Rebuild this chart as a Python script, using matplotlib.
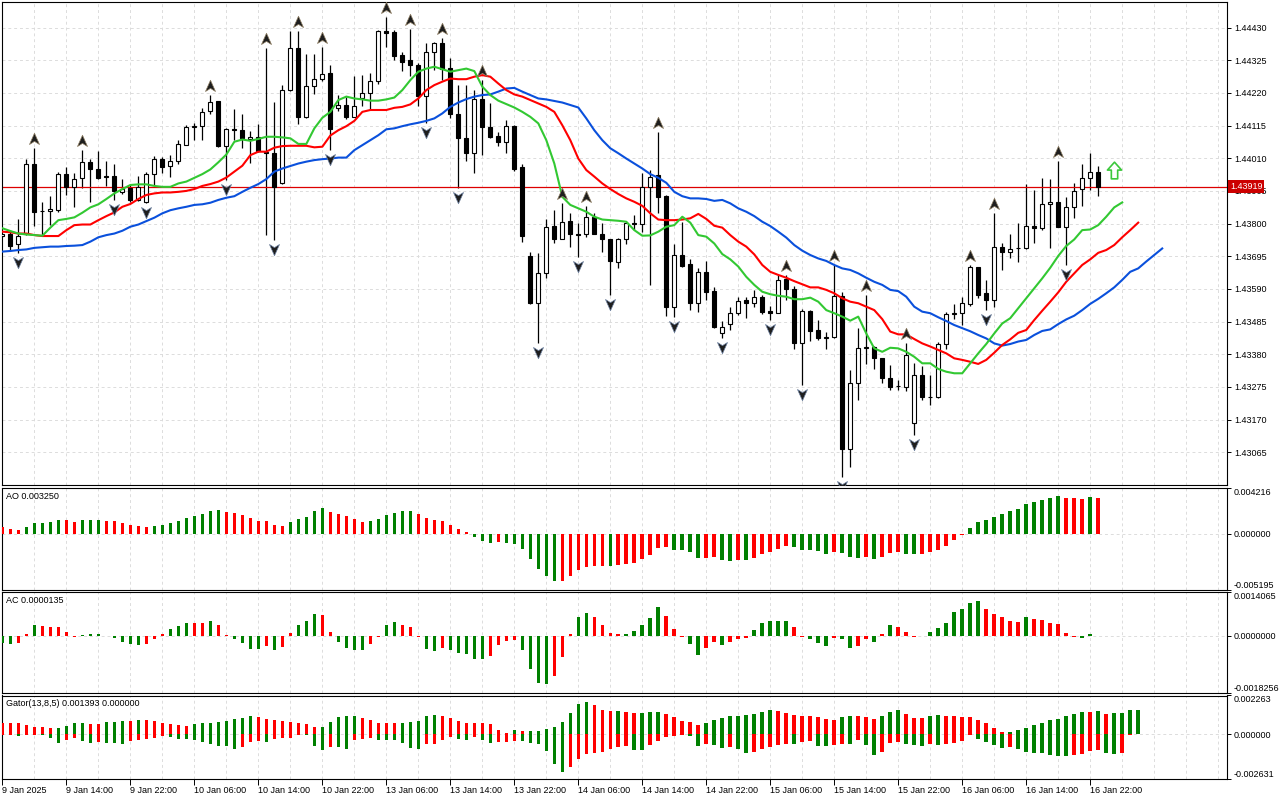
import numpy as np
import matplotlib
matplotlib.use("Agg")
import matplotlib.pyplot as plt
import matplotlib.transforms as mtransforms
from matplotlib.path import Path
from matplotlib.ticker import FormatStrFormatter

# ---------------- data (H1 bars) ----------------
opens = [1.43760, 1.43765, 1.43733, 1.43768, 1.43993, 1.43839, 1.43839, 1.43843, 1.43959, 1.43916,
         1.43945, 1.43997, 1.43974, 1.43953, 1.43953, 1.43902, 1.43913, 1.43876, 1.43870, 1.43958,
         1.44009, 1.43985, 1.44002, 1.44054, 1.44109, 1.44115, 1.44161, 1.44194, 1.44049, 1.44104,
         1.44100, 1.44072, 1.44079, 1.44028, 1.44026, 1.43929, 1.44229, 1.44363, 1.44143, 1.44242,
         1.44263, 1.44285, 1.44170, 1.44181, 1.44143, 1.44204, 1.44221, 1.44258, 1.44418, 1.44414,
         1.44341, 1.44325, 1.44311, 1.44211, 1.44352, 1.44379, 1.44301, 1.44151, 1.44074, 1.44026,
         1.44200, 1.44111, 1.44081, 1.44063, 1.44115, 1.43981, 1.43696, 1.43544, 1.43640, 1.43792,
         1.43752, 1.43808, 1.43765, 1.43765, 1.43822, 1.43768, 1.43750, 1.43675, 1.43752, 1.43799,
         1.43799, 1.43916, 1.43956, 1.43888, 1.43531, 1.43699, 1.43670, 1.43544, 1.43643, 1.43583,
         1.43447, 1.43477, 1.43512, 1.43554, 1.43546, 1.43563, 1.43519, 1.43514, 1.43621, 1.43590,
         1.43415, 1.43519, 1.43458, 1.43431, 1.43437, 1.43567, 1.43075, 1.43289, 1.43399, 1.43405,
         1.43367, 1.43303, 1.43278, 1.43276, 1.43158, 1.43313, 1.43244, 1.43242, 1.43413, 1.43509,
         1.43512, 1.43542, 1.43661, 1.43576, 1.43554, 1.43724, 1.43708, 1.43720, 1.43720, 1.43793,
         1.43787, 1.43863, 1.43868, 1.43790, 1.43854, 1.43910, 1.43948, 1.43967]
highs = [1.43768, 1.43779, 1.43815, 1.44006, 1.44044, 1.43868, 1.43888, 1.43967, 1.43983, 1.43961,
         1.44036, 1.44007, 1.44033, 1.44001, 1.43993, 1.43942, 1.43924, 1.43953, 1.43967, 1.44017,
         1.44015, 1.44020, 1.44068, 1.44116, 1.44122, 1.44170, 1.44213, 1.44195, 1.44106, 1.44168,
         1.44151, 1.44097, 1.44119, 1.44365, 1.44191, 1.44245, 1.44418, 1.44418, 1.44344, 1.44345,
         1.44368, 1.44309, 1.44213, 1.44208, 1.44274, 1.44277, 1.44285, 1.44422, 1.44465, 1.44422,
         1.44352, 1.44425, 1.44315, 1.44381, 1.44384, 1.44395, 1.44331, 1.44245, 1.44245, 1.44229,
         1.44261, 1.44186, 1.44095, 1.44133, 1.44116, 1.43990, 1.43710, 1.43704, 1.43815, 1.43843,
         1.43867, 1.43833, 1.43801, 1.43857, 1.43833, 1.43803, 1.43752, 1.43755, 1.43806, 1.43827,
         1.43963, 1.43972, 1.44095, 1.43892, 1.43734, 1.43804, 1.43686, 1.43656, 1.43681, 1.43597,
         1.43488, 1.43533, 1.43563, 1.43565, 1.43587, 1.43570, 1.43535, 1.43635, 1.43635, 1.43599,
         1.43524, 1.43522, 1.43490, 1.43453, 1.43667, 1.43581, 1.43330, 1.43463, 1.43570, 1.43407,
         1.43369, 1.43346, 1.43297, 1.43415, 1.43352, 1.43343, 1.43313, 1.43421, 1.43517, 1.43542,
         1.43563, 1.43667, 1.43661, 1.43619, 1.43833, 1.43736, 1.43765, 1.43801, 1.43927, 1.43908,
         1.43945, 1.43943, 1.44001, 1.43886, 1.43932, 1.43993, 1.44026, 1.43985]
lows = [1.43756, 1.43713, 1.43704, 1.43763, 1.43792, 1.43763, 1.43795, 1.43836, 1.43892, 1.43852,
        1.43913, 1.43870, 1.43942, 1.43921, 1.43876, 1.43894, 1.43870, 1.43872, 1.43865, 1.43924,
        1.43963, 1.43951, 1.43993, 1.44052, 1.44070, 1.44070, 1.44151, 1.44047, 1.43940, 1.44070,
        1.44044, 1.43996, 1.44031, 1.43763, 1.43747, 1.43927, 1.44227, 1.44119, 1.44138, 1.44215,
        1.44258, 1.44036, 1.44161, 1.44135, 1.44141, 1.44178, 1.44165, 1.44247, 1.44368, 1.44325,
        1.44291, 1.44274, 1.44178, 1.44122, 1.44295, 1.44261, 1.44140, 1.43913, 1.44002, 1.43961,
        1.44020, 1.44074, 1.44050, 1.44026, 1.43970, 1.43742, 1.43542, 1.43415, 1.43624, 1.43736,
        1.43749, 1.43724, 1.43694, 1.43758, 1.43765, 1.43708, 1.43570, 1.43658, 1.43734, 1.43779,
        1.43774, 1.43603, 1.43835, 1.43503, 1.43499, 1.43661, 1.43522, 1.43515, 1.43554, 1.43463,
        1.43433, 1.43458, 1.43506, 1.43498, 1.43533, 1.43509, 1.43490, 1.43512, 1.43554, 1.43396,
        1.43281, 1.43424, 1.43426, 1.43396, 1.43431, 1.42987, 1.43019, 1.43233, 1.43349, 1.43332,
        1.43287, 1.43265, 1.43265, 1.43263, 1.43121, 1.43233, 1.43217, 1.43239, 1.43396, 1.43492,
        1.43474, 1.43536, 1.43562, 1.43522, 1.43533, 1.43651, 1.43690, 1.43678, 1.43717, 1.43736,
        1.43779, 1.43720, 1.43788, 1.43667, 1.43819, 1.43857, 1.43908, 1.43888]
closes = [1.43765, 1.43729, 1.43761, 1.43993, 1.43838, 1.43839, 1.43847, 1.43959, 1.43916, 1.43942,
          1.43997, 1.43974, 1.43947, 1.43951, 1.43906, 1.43910, 1.43876, 1.43916, 1.43959, 1.44009,
          1.43983, 1.44002, 1.44055, 1.44109, 1.44115, 1.44159, 1.44191, 1.44049, 1.44104, 1.44100,
          1.44074, 1.44079, 1.44034, 1.44030, 1.43916, 1.44229, 1.44363, 1.44143, 1.44242, 1.44263,
          1.44282, 1.44103, 1.44181, 1.44143, 1.44179, 1.44221, 1.44258, 1.44418, 1.44411, 1.44339,
          1.44320, 1.44311, 1.44211, 1.44350, 1.44379, 1.44298, 1.44151, 1.44074, 1.44026, 1.44200,
          1.44111, 1.44079, 1.44063, 1.44113, 1.43975, 1.43761, 1.43544, 1.43640, 1.43788, 1.43752,
          1.43806, 1.43765, 1.43764, 1.43822, 1.43768, 1.43749, 1.43680, 1.43752, 1.43801, 1.43801,
          1.43916, 1.43951, 1.43886, 1.43531, 1.43699, 1.43665, 1.43544, 1.43643, 1.43581, 1.43469,
          1.43469, 1.43512, 1.43552, 1.43544, 1.43563, 1.43517, 1.43512, 1.43619, 1.43589, 1.43415,
          1.43519, 1.43456, 1.43431, 1.43437, 1.43567, 1.43075, 1.43289, 1.43399, 1.43405, 1.43367,
          1.43303, 1.43276, 1.43277, 1.43378, 1.43313, 1.43244, 1.43242, 1.43413, 1.43509, 1.43512,
          1.43544, 1.43661, 1.43570, 1.43554, 1.43724, 1.43710, 1.43717, 1.43721, 1.43793, 1.43787,
          1.43863, 1.43868, 1.43790, 1.43852, 1.43906, 1.43948, 1.43967, 1.43919]

# Alligator lines (already shifted forward: lips +3, teeth +5, jaw +8 bars)
lips = [1.43785, 1.43776, 1.43768, 1.43765, 1.43763, 1.43761, 1.43787, 1.43811, 1.43815, 1.43820,
        1.43835, 1.43852, 1.43862, 1.43879, 1.43897, 1.43911, 1.43924, 1.43926, 1.43926, 1.43921,
        1.43918, 1.43918, 1.43929, 1.43935, 1.43947, 1.43959, 1.43974, 1.43997, 1.44022, 1.44063,
        1.44070, 1.44066, 1.44072, 1.44079, 1.44079, 1.44077, 1.44074, 1.44056, 1.44056, 1.44106,
        1.44140, 1.44159, 1.44197, 1.44208, 1.44202, 1.44199, 1.44195, 1.44195, 1.44199, 1.44205,
        1.44229, 1.44261, 1.44288, 1.44298, 1.44304, 1.44296, 1.44288, 1.44293, 1.44298, 1.44290,
        1.44240, 1.44213, 1.44195, 1.44184, 1.44173, 1.44159, 1.44143, 1.44122, 1.44068, 1.43993,
        1.43886, 1.43860, 1.43849, 1.43838, 1.43822, 1.43813, 1.43811, 1.43809, 1.43806, 1.43779,
        1.43761, 1.43762, 1.43774, 1.43790, 1.43795, 1.43822, 1.43803, 1.43763, 1.43758, 1.43736,
        1.43702, 1.43685, 1.43662, 1.43629, 1.43603, 1.43581, 1.43573, 1.43568, 1.43565, 1.43557,
        1.43557, 1.43562, 1.43549, 1.43522, 1.43512, 1.43501, 1.43488, 1.43501, 1.43447, 1.43399,
        1.43388, 1.43401, 1.43399, 1.43388, 1.43372, 1.43351, 1.43351, 1.43333, 1.43324, 1.43319,
        1.43319, 1.43351, 1.43383, 1.43413, 1.43447, 1.43479, 1.43496, 1.43528, 1.43560, 1.43592,
        1.43624, 1.43658, 1.43696, 1.43728, 1.43749, 1.43779, 1.43781, 1.43795, 1.43822, 1.43852,
        1.43868]
teeth = [1.43774, 1.43772, 1.43768, 1.43768, 1.43763, 1.43760, 1.43760, 1.43760, 1.43779, 1.43795,
         1.43797, 1.43797, 1.43811, 1.43824, 1.43836, 1.43854, 1.43863, 1.43879, 1.43892, 1.43897,
         1.43900, 1.43900, 1.43902, 1.43905, 1.43911, 1.43921, 1.43927, 1.43935, 1.43948, 1.43967,
         1.43986, 1.44020, 1.44031, 1.44031, 1.44044, 1.44049, 1.44050, 1.44050, 1.44050, 1.44045,
         1.44047, 1.44083, 1.44100, 1.44113, 1.44130, 1.44159, 1.44165, 1.44165, 1.44165, 1.44172,
         1.44175, 1.44183, 1.44202, 1.44229, 1.44245, 1.44256, 1.44266, 1.44264, 1.44264, 1.44272,
         1.44277, 1.44272, 1.44250, 1.44229, 1.44215, 1.44208, 1.44197, 1.44186, 1.44175, 1.44159,
         1.44116, 1.44068, 1.44009, 1.43972, 1.43951, 1.43929, 1.43911, 1.43895, 1.43881, 1.43870,
         1.43857, 1.43833, 1.43813, 1.43811, 1.43811, 1.43813, 1.43817, 1.43831, 1.43815, 1.43793,
         1.43787, 1.43763, 1.43742, 1.43726, 1.43701, 1.43667, 1.43645, 1.43635, 1.43626, 1.43615,
         1.43605, 1.43595, 1.43595, 1.43587, 1.43576, 1.43560, 1.43549, 1.43544, 1.43533, 1.43522,
         1.43493, 1.43453, 1.43444, 1.43444, 1.43429, 1.43415, 1.43405, 1.43394, 1.43383, 1.43367,
         1.43362, 1.43356, 1.43349, 1.43362, 1.43385, 1.43410, 1.43428, 1.43449, 1.43458, 1.43490,
         1.43520, 1.43549, 1.43579, 1.43613, 1.43640, 1.43667, 1.43685, 1.43706, 1.43715, 1.43731,
         1.43756, 1.43779, 1.43803]
jaw = [1.43710, 1.43712, 1.43715, 1.43717, 1.43722, 1.43724, 1.43726, 1.43726, 1.43728, 1.43729,
       1.43731, 1.43742, 1.43756, 1.43763, 1.43768, 1.43777, 1.43790, 1.43797, 1.43808, 1.43819,
       1.43833, 1.43843, 1.43849, 1.43854, 1.43860, 1.43862, 1.43867, 1.43876, 1.43883, 1.43888,
       1.43902, 1.43915, 1.43927, 1.43943, 1.43967, 1.43977, 1.43985, 1.43993, 1.43999, 1.44004,
       1.44007, 1.44009, 1.44012, 1.44012, 1.44036, 1.44052, 1.44068, 1.44084, 1.44103, 1.44106,
       1.44113, 1.44119, 1.44124, 1.44130, 1.44138, 1.44154, 1.44175, 1.44189, 1.44200, 1.44208,
       1.44213, 1.44215, 1.44224, 1.44234, 1.44236, 1.44224, 1.44213, 1.44202, 1.44199, 1.44194,
       1.44189, 1.44181, 1.44173, 1.44138, 1.44100, 1.44068, 1.44042, 1.44026, 1.44009, 1.43993,
       1.43977, 1.43959, 1.43947, 1.43931, 1.43902, 1.43888, 1.43881, 1.43881, 1.43879, 1.43873,
       1.43876, 1.43865, 1.43849, 1.43838, 1.43824, 1.43806, 1.43792, 1.43774, 1.43755, 1.43731,
       1.43713, 1.43699, 1.43688, 1.43680, 1.43667, 1.43656, 1.43651, 1.43640, 1.43626, 1.43613,
       1.43603, 1.43587, 1.43583, 1.43565, 1.43533, 1.43517, 1.43512, 1.43499, 1.43487, 1.43474,
       1.43464, 1.43454, 1.43442, 1.43431, 1.43415, 1.43408, 1.43413, 1.43421, 1.43426, 1.43442,
       1.43455, 1.43460, 1.43477, 1.43492, 1.43504, 1.43522, 1.43542, 1.43558, 1.43576, 1.43595,
       1.43619, 1.43645, 1.43656, 1.43678, 1.43699, 1.43720]

# bars carrying a fractal arrow
fractal_up = [4, 10, 26, 33, 37, 40, 48, 51, 55, 60, 70, 73, 82, 98, 104, 108, 113, 121, 124, 132]
fractal_down = [2, 14, 18, 28, 34, 41, 53, 57, 67, 72, 76, 84, 90, 96, 100, 105, 114, 123, 133]
signal_bar = 139
signal_price = 1.43972

ao = [0.000585, 0.00040, 0.00031, 0.00059, 0.00095, 0.00096, 0.00105, 0.00123, 0.00122, 0.00105,
      0.00123, 0.00124, 0.00125, 0.00114, 0.00113, 0.00095, 0.00083, 0.00068, 0.00059, 0.00068,
      0.00077, 0.00095, 0.00114, 0.00142, 0.00160, 0.00179, 0.00206, 0.00216, 0.00197, 0.00188,
      0.00169, 0.00142, 0.00114, 0.00113, 0.00077, 0.00068, 0.00105, 0.00132, 0.00151, 0.00206,
      0.00234, 0.00197, 0.00179, 0.00160, 0.00132, 0.00105, 0.00114, 0.00132, 0.00169, 0.00188,
      0.00206, 0.00207, 0.00185, 0.00142, 0.00126, 0.00114, 0.00077, 0.00040, 0.00012, -0.00031,
      -0.00071, -0.00086, -0.00077, -0.00086, -0.00095, -0.00142, -0.00234, -0.00326, -0.00394, -0.00440,
      -0.00439, -0.00394, -0.00333, -0.00308, -0.00296, -0.00295, -0.00297, -0.00293, -0.00280, -0.00271,
      -0.00234, -0.00200, -0.00136, -0.00126, -0.00148, -0.00154, -0.00172, -0.00228, -0.00226, -0.00216,
      -0.00243, -0.00256, -0.00243, -0.00244, -0.00225, -0.00191, -0.00169, -0.00142, -0.00117, -0.00126,
      -0.00148, -0.00154, -0.00163, -0.00188, -0.00169, -0.00179, -0.00216, -0.00225, -0.00219, -0.00234,
      -0.00216, -0.00179, -0.00169, -0.00188, -0.00189, -0.00187, -0.00169, -0.00148, -0.00117, -0.00059,
      -0.00012, 0.00052, 0.00105, 0.00126, 0.00151, 0.00179, 0.00206, 0.00225, 0.00271, 0.00290,
      0.00308, 0.00326, 0.00345, 0.00326, 0.00325, 0.00324, 0.00335, 0.003250]
ac = [-0.000213, -0.000245, -0.000213, 0.000064, 0.000352, 0.000320, 0.000288, 0.000285, 0.000128, -0.000020,
      0.000032, 0.000064, 0.000065, -0.000015, -0.000053, -0.000181, -0.000245, -0.000277, -0.000245, -0.000085,
      0.000064, 0.000224, 0.000320, 0.000416, 0.000415, 0.000413, 0.000480, 0.000352, 0.000032, -0.000085,
      -0.000213, -0.000405, -0.000406, -0.000309, -0.000437, -0.000341, 0.000096, 0.000352, 0.000480, 0.000704,
      0.000672, 0.000128, -0.000181, -0.000373, -0.000437, -0.000440, -0.000245, -0.000020, 0.000352, 0.000448,
      0.000352, 0.000288, -0.000030, -0.000405, -0.000470, -0.000373, -0.000437, -0.000533, -0.000565, -0.000725,
      -0.000726, -0.000629, -0.000277, -0.000149, -0.000117, -0.000437, -0.001045, -0.001493, -0.001525, -0.001269,
      -0.000661, 0.000064, 0.000608, 0.000736, 0.000607, 0.000352, 0.000096, 0.000064, 0.000065, 0.000160,
      0.000352, 0.000576, 0.000928, 0.000640, 0.000224, -0.000020, -0.000245, -0.000597, -0.000373, -0.000181,
      -0.000277, -0.000181, -0.000085, -0.000053, 0.000192, 0.000416, 0.000480, 0.000481, 0.000482, 0.000288,
      -0.000020, -0.000085, -0.000213, -0.000309, -0.000053, -0.000085, -0.000373, -0.000309, -0.000085, -0.000181,
      0.000064, 0.000352, 0.000288, 0.000128, -0.000020, -0.000010, 0.000128, 0.000256, 0.000416, 0.000768,
      0.000864, 0.001056, 0.001120, 0.000864, 0.000704, 0.000608, 0.000480, 0.000448, 0.000608, 0.000544,
      0.000512, 0.000416, 0.000384, 0.000096, -0.000020, -0.000053, 0.000064, 0.0000135]
gator_up = [0.000661, 0.000655, 0.000650, 0.000544, 0.000427, 0.000420, 0.000369, 0.000375, 0.000486, 0.000661,
            0.000668, 0.000602, 0.000598, 0.000719, 0.000725, 0.000777, 0.000770, 0.000835, 0.000830, 0.000777,
            0.000661, 0.000602, 0.000544, 0.000486, 0.000602, 0.000661, 0.000668, 0.000719, 0.000777, 0.000913,
            0.000952, 0.001069, 0.001010, 0.000894, 0.000835, 0.000777, 0.000719, 0.000661, 0.000602, 0.000427,
            0.000435, 0.000719, 0.001010, 0.001069, 0.001075, 0.000952, 0.000835, 0.000661, 0.000655, 0.000650,
            0.000661, 0.000719, 0.000777, 0.001069, 0.001127, 0.001069, 0.000952, 0.000777, 0.000661, 0.000655,
            0.000650, 0.000602, 0.000253, 0.000078, 0.000253, 0.000175, 0.000194, 0.000200, 0.000311, 0.000427,
            0.000719, 0.001244, 0.001768, 0.001885, 0.001710, 0.001418, 0.001360, 0.001366, 0.001302, 0.001244,
            0.001250, 0.001302, 0.001308, 0.001185, 0.001010, 0.000777, 0.000719, 0.000544, 0.000661, 0.000835,
            0.000952, 0.001069, 0.001075, 0.001127, 0.001185, 0.001302, 0.001418, 0.001360, 0.001244, 0.001127,
            0.001069, 0.001063, 0.001010, 0.000894, 0.000835, 0.001010, 0.001069, 0.001063, 0.001010, 0.000894,
            0.001069, 0.001302, 0.001418, 0.001185, 0.000952, 0.000945, 0.001069, 0.001127, 0.001069, 0.001063,
            0.001010, 0.001003, 0.000855, 0.000661, 0.000350, 0.000117, 0.000125, 0.000272, 0.000369, 0.000544,
            0.000641, 0.000816, 0.000874, 0.001049, 0.001166, 0.001282, 0.001276, 0.001360, 0.001166, 0.001224,
            0.001230, 0.001390, 0.001393]
gator_down = [0.000058, 0.000055, 0.000097, 0.000030, 0.000025, 0.000060, 0.000194, 0.000486, 0.000330, 0.000194,
              0.000389, 0.000486, 0.000480, 0.000486, 0.000492, 0.000544, 0.000389, 0.000330, 0.000291, 0.000194,
              0.000097, 0.000136, 0.000253, 0.000291, 0.000330, 0.000447, 0.000544, 0.000680, 0.000686, 0.000835,
              0.000738, 0.000447, 0.000389, 0.000447, 0.000253, 0.000194, 0.000190, 0.000020, 0.000039, 0.000680,
              0.000913, 0.000738, 0.000745, 0.000835, 0.000330, 0.000253, 0.000248, 0.000330, 0.000336, 0.000340,
              0.000486, 0.000777, 0.000835, 0.000583, 0.000544, 0.000330, 0.000136, 0.000253, 0.000330, 0.000136,
              0.000330, 0.000486, 0.000480, 0.000427, 0.000389, 0.000395, 0.000486, 0.000544, 0.000972, 0.001710,
              0.002196, 0.001885, 0.001418, 0.001166, 0.001069, 0.001063, 0.000874, 0.000719, 0.000713, 0.000913,
              0.000920, 0.000622, 0.000389, 0.000136, 0.000130, 0.000020, 0.000097, 0.000680, 0.000544, 0.000622,
              0.000797, 0.000738, 0.000835, 0.001069, 0.001010, 0.000874, 0.000719, 0.000622, 0.000544, 0.000550,
              0.000447, 0.000389, 0.000680, 0.000686, 0.000622, 0.000544, 0.000550, 0.000330, 0.000622, 0.001185,
              0.001010, 0.000486, 0.000427, 0.000544, 0.000622, 0.000661, 0.000564, 0.000622, 0.000564, 0.000486,
              0.000389, 0.000020, 0.000291, 0.000447, 0.000641, 0.000797, 0.000738, 0.000874, 0.001049, 0.001088,
              0.001094, 0.001224, 0.001263, 0.001270, 0.001185, 0.001127, 0.000972, 0.000933, 0.001088, 0.001166,
              0.001088, 0.000040, 0.000000]

time_labels = ["9 Jan 2025", "9 Jan 14:00", "9 Jan 22:00", "10 Jan 06:00", "10 Jan 14:00",
               "10 Jan 22:00", "13 Jan 06:00", "13 Jan 14:00", "13 Jan 22:00", "14 Jan 06:00",
               "14 Jan 14:00", "14 Jan 22:00", "15 Jan 06:00", "15 Jan 14:00", "15 Jan 22:00",
               "16 Jan 06:00", "16 Jan 14:00", "16 Jan 22:00"]
label_step = 8

price_range = (1.42960, 1.44512)
price_ticks = [1.43065 + 0.00105 * k for k in range(14)]
ao_range = (-0.005195, 0.004216)
ac_range = (-0.0018256, 0.0014065)
gator_range = (-0.002631, 0.002263)

# ---------------- style ----------------
plt.rcParams['font.family'] = ['Liberation Sans', 'DejaVu Sans']
plt.rcParams['font.size'] = 6.5
FS = 6.5
GREEN, RED = "#008000", "#ff0000"
GRID = dict(color="#dcdcdc", lw=0.7, ls=(0, (3, 3)), zorder=0)
XLIM = (-0.05, 153.1)

W, H = 1280, 800
fig = plt.figure(figsize=(W / 100, H / 100), dpi=100)


def px_box(left, top, right, bottom):
    return [left / W, 1 - bottom / H, (right - left) / W, (bottom - top) / H]


def trend_colors(vals, first):
    d = np.diff(np.abs(vals))
    return [first] + [GREEN if v > 0 else RED for v in d]


def style_axes(a):
    a.set_xlim(*XLIM)
    for s in a.spines.values():
        s.set_linewidth(0.8)
        s.set_color("black")
    for g in range(0, 154, 4):
        a.axvline(g, **GRID)
    a.yaxis.tick_right()
    a.tick_params(axis="y", direction="out", length=3, width=0.7, pad=2, labelsize=FS)
    a.tick_params(axis="x", bottom=False, labelbottom=False)


# ---------------- main chart ----------------
ax = fig.add_axes(px_box(2, 2, 1227, 485))
style_axes(ax)
ax.set_ylim(*price_range)
ax.set_yticks(price_ticks)
ax.yaxis.set_major_formatter(FormatStrFormatter("%.5f"))
for p in price_ticks:
    ax.axhline(p, **GRID)

o, hi, lo, cl = (np.array(v) for v in (opens, highs, lows, closes))
xs = np.arange(len(o))
bull = cl >= o
ax.vlines(xs, lo, hi, colors="black", lw=0.9, zorder=2)
ax.bar(xs, cl - o, bottom=o, width=0.5, color=np.where(bull, "white", "black"),
       edgecolor="black", linewidth=0.8, zorder=3)

ax.plot(np.arange(len(jaw)), jaw, color="#0a50dc", lw=1.5, zorder=4)
ax.plot(np.arange(len(teeth)), teeth, color="#ff0000", lw=1.5, zorder=4)
ax.plot(np.arange(len(lips)), lips, color="#32c832", lw=1.5, zorder=4)

ax.axhline(cl[-1], color="#dd0000", lw=0.9, zorder=2.5)
ax.text(1.0, cl[-1], f"{cl[-1]:.5f}", color="white", fontsize=FS, ha="left", va="center",
        transform=mtransforms.offset_copy(
            mtransforms.blended_transform_factory(ax.transAxes, ax.transData),
            fig=fig, x=3, y=0, units="dots"),
        bbox=dict(boxstyle="square,pad=0.2", fc="#cc0000", ec="none"),
        clip_on=False, zorder=10)

# fractal arrows
codes = [Path.MOVETO, Path.LINETO, Path.LINETO, Path.LINETO, Path.CLOSEPOLY]
up_arrow = Path([(0, 1), (0.8, -0.8), (0, -0.3), (-0.8, -0.8), (0, 1)], codes)
down_arrow = Path([(0, -1), (0.8, 0.8), (0, 0.3), (-0.8, 0.8), (0, -1)], codes)
above = mtransforms.offset_copy(ax.transData, fig=fig, x=0, y=9, units="dots")
below = mtransforms.offset_copy(ax.transData, fig=fig, x=0, y=-9, units="dots")
ax.plot(fractal_up, hi[fractal_up], ls="none", marker=up_arrow, ms=9,
        mfc="#1e1e1e", mec="#8c7c60", mew=0.5, transform=above, zorder=5)
ax.plot(fractal_down, lo[fractal_down], ls="none", marker=down_arrow, ms=9,
        mfc="#1e1e1e", mec="#6c80a0", mew=0.5, transform=below, zorder=5)

sig_arrow = Path([(0, 1), (0.85, 0.05), (0.38, 0.05), (0.38, -1), (-0.38, -1),
                  (-0.38, 0.05), (-0.85, 0.05), (0, 1)],
                 [Path.MOVETO] + [Path.LINETO] * 6 + [Path.CLOSEPOLY])
ax.plot([signal_bar], [signal_price], ls="none", marker=sig_arrow, ms=12,
        mfc="white", mec="#3cc83c", mew=1.2, zorder=5)

# ---------------- oscillators ----------------
def panel(box, lims, fmt, vals, first, title):
    a = fig.add_axes(box)
    style_axes(a)
    a.set_ylim(*lims)
    a.set_yticks([lims[0], 0.0, lims[1]])
    a.set_yticklabels([fmt % v for v in (lims[0], 0.0, lims[1])])
    labs = a.get_yticklabels()
    labs[0].set_va("bottom")
    labs[2].set_va("top")
    a.axhline(0, **GRID)
    if vals is not None:
        a.bar(np.arange(len(vals)), vals, width=0.45, color=trend_colors(vals, first),
              linewidth=0, zorder=3)
    a.text(0, 1, title, ha="left", va="top", fontsize=FS,
           transform=mtransforms.offset_copy(a.transAxes, fig=fig, x=4, y=-4, units="dots"))
    return a


panel(px_box(2, 488, 1227, 590), ao_range, "%.6f", ao, RED, f"AO {ao[-1]:.6f}")
panel(px_box(2, 592, 1227, 693), ac_range, "%.7f", ac, GREEN, f"AC {ac[-1]:.7f}")
gt = panel(px_box(2, 695.5, 1227, 779.3), gator_range, "%.6f", None, RED,
           f"Gator(13,8,5) {gator_up[-1]:.6f} {gator_down[-1]:.6f}")
gu = np.array(gator_up)
gd = np.array(gator_down)
gt.bar(np.arange(len(gu)), gu, width=0.45, color=trend_colors(gu, RED), linewidth=0, zorder=3)
gt.bar(np.arange(len(gd)), -gd, width=0.45, color=trend_colors(gd, RED), linewidth=0, zorder=3)

gt.tick_params(axis="x", bottom=True, labelbottom=True, direction="out", length=4,
               width=0.7, pad=1, labelsize=FS)
gt.set_xticks(np.arange(len(time_labels)) * label_step)
gt.set_xticklabels(time_labels, ha="left")

fig.savefig("out.png", dpi=100)
